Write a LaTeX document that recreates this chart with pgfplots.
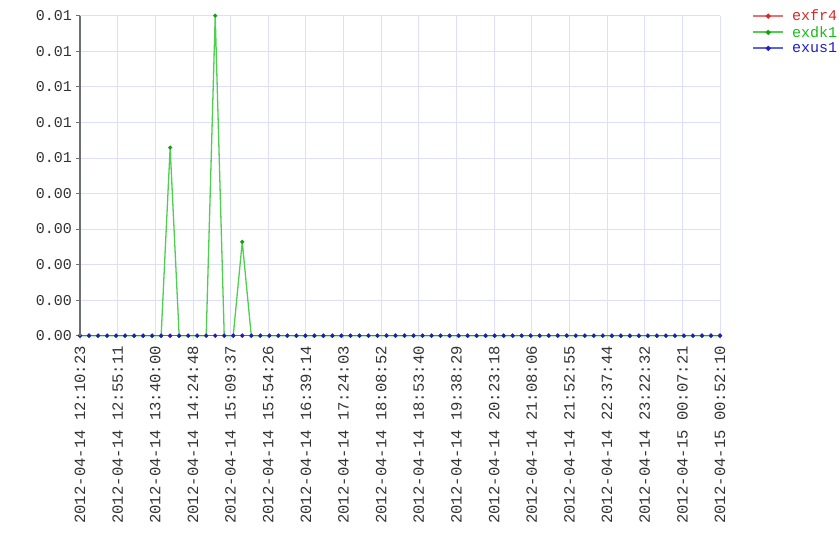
\documentclass[border=0pt]{standalone}
\usepackage{pgfplots}
\pgfplotsset{compat=1.18}
\usepackage{fontspec}
\newfontfamily\monofont{Liberation Mono}
\definecolor{gridc}{RGB}{222,222,255}
\definecolor{axc}{RGB}{110,110,120}
\definecolor{cred}{RGB}{215,40,40}
\definecolor{cgreen}{RGB}{20,190,20}
\definecolor{cblue}{RGB}{30,30,200}
\newcommand{\tf}{\fontsize{15}{18}\selectfont\monofont}
\newcommand{\xf}{\fontsize{15.6}{18}\selectfont\monofont}
\begin{document}
\begin{tikzpicture}[x=1pt,y=1pt]
\begin{axis}[
  name=main,
  scale only axis, width=640pt, height=320pt,
  xmin=0, xmax=71, ymin=0, ymax=0.009,
  clip=false,
  axis line style={draw=none},
  grid=major,
  major grid style={gridc, line width=0.8pt},
  xtick={0,4.17647,8.35294,12.52941,16.70588,20.88235,25.05882,29.23529,33.41176,37.58824,41.76471,45.94118,50.11765,54.29412,58.47059,62.64706,66.82353,71},
  xticklabels={2012-04-14 12:10:23,2012-04-14 12:55:11,2012-04-14 13:40:00,2012-04-14 14:24:48,2012-04-14 15:09:37,2012-04-14 15:54:26,2012-04-14 16:39:14,2012-04-14 17:24:03,2012-04-14 18:08:52,2012-04-14 18:53:40,2012-04-14 19:38:29,2012-04-14 20:23:18,2012-04-14 21:08:06,2012-04-14 21:52:55,2012-04-14 22:37:44,2012-04-14 23:22:32,2012-04-15 00:07:21,2012-04-15 00:52:10},
  ytick={0,0.001,0.002,0.003,0.004,0.005,0.006,0.007,0.008,0.009},
  yticklabels={0.00,0.00,0.00,0.00,0.00,0.01,0.01,0.01,0.01,0.01},
  scaled y ticks=false,
  /pgf/number format/assume math mode=true,
  xtick pos=bottom, ytick pos=left,
  tick align=outside,
  major tick length=4pt,
  x tick style={gridc, line width=0.8pt},
  y tick style={axc, line width=0.8pt},
  xticklabel style={font=\xf, color=black!80, rotate=90, anchor=east, inner sep=0pt, xshift=-6pt},
  yticklabel style={font=\tf, color=black!80, anchor=east, inner sep=0pt, xshift=-4pt},
  legend style={at={(1.0+32/640,1.0+8/320)}, anchor=north west, draw=none, fill=none,
    font=\tf, row sep=0pt, inner sep=0pt,
    /tikz/every odd column/.append style={column sep=6pt}},
  legend cell align=left,
  legend image code/.code={\draw[mark repeat=2,mark phase=2,#1,line width=2pt] plot coordinates {(0pt,0pt) (15pt,0pt) (30pt,0pt)};},
  extra description/.code={\draw[axc, line width=2pt] (axis description cs:0,0) -- (axis description cs:0,1);},
]
\addplot[cred!65!white, line width=1.3pt, mark=*, mark size=1.3pt, mark options={fill=cred, draw=cred}] table[x=i, y=v] {
i v
0 0
1 0
2 0
3 0
4 0
5 0
6 0
7 0
8 0
9 0
10 0
11 0
12 0
13 0
14 0
15 0
16 0
17 0
18 0
19 0
20 0
21 0
22 0
23 0
24 0
25 0
26 0
27 0
28 0
29 0
30 0
31 0
32 0
33 0
34 0
35 0
36 0
37 0
38 0
39 0
40 0
41 0
42 0
43 0
44 0
45 0
46 0
47 0
48 0
49 0
50 0
51 0
52 0
53 0
54 0
55 0
56 0
57 0
58 0
59 0
60 0
61 0
62 0
63 0
64 0
65 0
66 0
67 0
68 0
69 0
70 0
71 0
};
\addlegendentry{\textcolor{cred}{exfr4}}
\addplot[cgreen!75!white, line width=1.3pt, mark=*, mark size=1.3pt, mark options={fill=cgreen!85!black, draw=cgreen!85!black}] table[x=i, y=v] {
i v
0 0
1 0
2 0
3 0
4 0
5 0
6 0
7 0
8 0
9 0
10 0.00529
11 0
12 0
13 0
14 0
15 0.009
16 0
17 0
18 0.00264
19 0
20 0
21 0
22 0
23 0
24 0
25 0
26 0
27 0
28 0
29 0
30 0
31 0
32 0
33 0
34 0
35 0
36 0
37 0
38 0
39 0
40 0
41 0
42 0
43 0
44 0
45 0
46 0
47 0
48 0
49 0
50 0
51 0
52 0
53 0
54 0
55 0
56 0
57 0
58 0
59 0
60 0
61 0
62 0
63 0
64 0
65 0
66 0
67 0
68 0
69 0
70 0
71 0
};
\addlegendentry{\textcolor{cgreen}{exdk1}}
\addplot[cblue!70!white, line width=1.3pt, mark=*, mark size=1.3pt, mark options={fill=cblue, draw=cblue}] table[x=i, y=v] {
i v
0 0
1 0
2 0
3 0
4 0
5 0
6 0
7 0
8 0
9 0
10 0
11 0
12 0
13 0
14 0
15 0
16 0
17 0
18 0
19 0
20 0
21 0
22 0
23 0
24 0
25 0
26 0
27 0
28 0
29 0
30 0
31 0
32 0
33 0
34 0
35 0
36 0
37 0
38 0
39 0
40 0
41 0
42 0
43 0
44 0
45 0
46 0
47 0
48 0
49 0
50 0
51 0
52 0
53 0
54 0
55 0
56 0
57 0
58 0
59 0
60 0
61 0
62 0
63 0
64 0
65 0
66 0
67 0
68 0
69 0
70 0
71 0
};
\addlegendentry{\textcolor{cblue}{exus1}}
\end{axis}
\pgfresetboundingbox
\path[use as bounding box] ([xshift=-80pt,yshift=-224.3pt]main.south west) rectangle ([xshift=120pt,yshift=15.7pt]main.north east);
\end{tikzpicture}
\end{document}
